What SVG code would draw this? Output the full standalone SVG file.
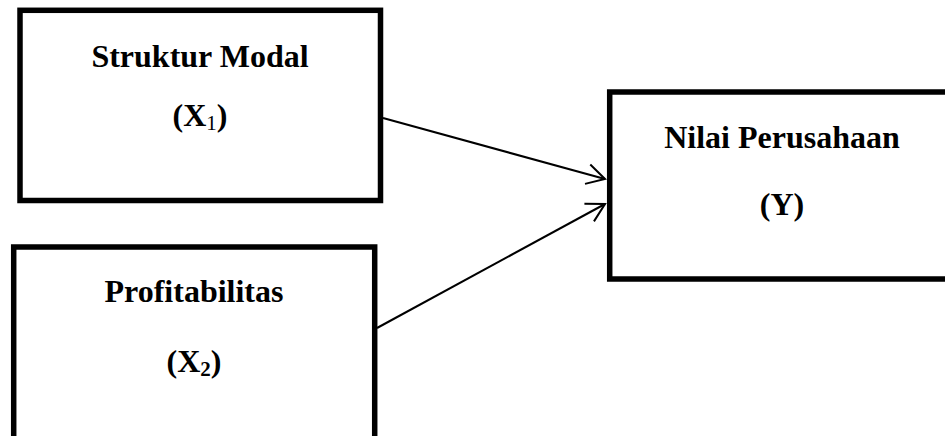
<svg xmlns="http://www.w3.org/2000/svg" width="945" height="436" viewBox="0 0 945 436">
<style>
.box{fill:#fff;stroke:#000;stroke-width:5.5}
.t{font-family:"Liberation Serif","Times New Roman",serif;font-weight:bold;font-size:32px;fill:#000;text-anchor:middle}
.sub{font-size:21px}
.c{fill:none;stroke:#000;stroke-width:2}
</style>
<defs>
<marker id="arr" markerUnits="userSpaceOnUse" markerWidth="24" markerHeight="24" viewBox="-20 -12 24 24" refX="0" refY="0" orient="auto">
<path d="M-18,-10 L0,0 L-18,10" fill="none" stroke="#000" stroke-width="2"/>
</marker>
</defs>
<rect x="0" y="0" width="945" height="436" fill="#fff"/>
<g id="node-x1">
<rect class="box" x="20" y="10.3" width="360.5" height="190.2"/>
<text class="t" x="200" y="67">Struktur Modal</text>
<text class="t" x="200" y="126">(X<tspan class="sub" font-weight="normal" dy="4">1</tspan><tspan dy="-4">)</tspan></text>
</g>
<g id="node-x2">
<rect class="box" x="13.7" y="247" width="361" height="200"/>
<text class="t" x="194" y="302">Profitabilitas</text>
<text class="t" x="194" y="372">(X<tspan class="sub" dy="4">2</tspan><tspan dy="-4">)</tspan></text>
</g>
<g id="node-y">
<rect class="box" x="609.7" y="92" width="400" height="187"/>
<text class="t" x="782" y="148">Nilai Perusahaan</text>
<text class="t" x="782" y="215">(Y)</text>
</g>
<g id="connectors">
<line class="c" x1="383" y1="118" x2="605" y2="179" marker-end="url(#arr)"/>
<line class="c" x1="377" y1="328" x2="605" y2="204" marker-end="url(#arr)"/>
</g>
</svg>
